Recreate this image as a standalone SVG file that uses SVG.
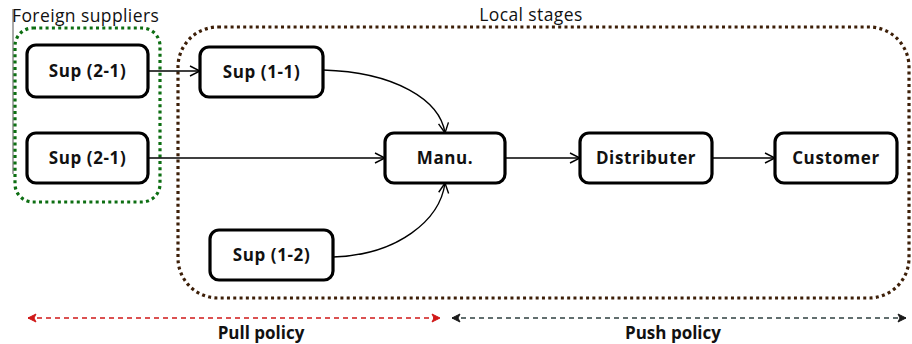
<svg xmlns="http://www.w3.org/2000/svg" width="912" height="344" viewBox="0 0 912 344">
<style>
.node rect{fill:#fff;stroke:#000;stroke-width:3.2}
.node text{font-family:"Open Sans","Liberation Sans",sans-serif;font-weight:bold;font-size:17px;letter-spacing:0.6px;text-anchor:middle;fill:#111}
.conn{fill:none;stroke:#000;stroke-width:1.4}
.lbl{font-family:"Open Sans","Liberation Sans",sans-serif;font-size:17.5px;letter-spacing:0.4px;fill:#111}
.plbl{font-family:"Open Sans","Liberation Sans",sans-serif;font-size:17px;font-weight:bold;fill:#111;text-anchor:middle}
</style>
<defs>
<marker id="arr" viewBox="0 0 12 12" refX="11" refY="6" markerWidth="12" markerHeight="12" markerUnits="userSpaceOnUse" orient="auto">
<path d="M1,1 L11,6 L1,11" fill="none" stroke="#000" stroke-width="1.4"/>
</marker>
<marker id="red" viewBox="0 0 10 10" refX="9" refY="5" markerWidth="10" markerHeight="10" markerUnits="userSpaceOnUse" orient="auto-start-reverse">
<path d="M1,1 L9,5 L1,9 L3,5 Z" fill="#d01818" stroke="#d01818" stroke-width="1"/>
</marker>
<marker id="dark" viewBox="0 0 10 10" refX="9" refY="5" markerWidth="10" markerHeight="10" markerUnits="userSpaceOnUse" orient="auto-start-reverse">
<path d="M1,1 L9,5 L1,9 L3,5 Z" fill="#1a1a1a" stroke="#1a1a1a" stroke-width="1"/>
</marker>
</defs>
<rect width="912" height="344" fill="#fff"/>
<g id="groups">
<line x1="13" y1="9" x2="13" y2="174" stroke="#555" stroke-width="1"/>
<text class="lbl" x="12" y="22">Foreign suppliers</text>
<rect x="15" y="28" width="145" height="174" rx="18" fill="none" stroke="#0d6e12" stroke-width="3.2" stroke-dasharray="3 3.3"/>
<text class="lbl" x="531" y="21" text-anchor="middle">Local stages</text>
<rect x="178" y="27" width="731" height="271" rx="40" fill="none" stroke="#3d1f08" stroke-width="3.2" stroke-dasharray="3 3.3"/>
</g>
<g id="connectors">
<line class="conn" x1="148" y1="71" x2="200" y2="71" marker-end="url(#arr)"/>
<line class="conn" x1="148" y1="158" x2="385" y2="158" marker-end="url(#arr)"/>
<path class="conn" d="M323,70 C395,72 440,100 445,133" marker-end="url(#arr)"/>
<path class="conn" d="M333,257 C398,255 440,220 445,183" marker-end="url(#arr)"/>
<line class="conn" x1="505" y1="158" x2="580" y2="158" marker-end="url(#arr)"/>
<line class="conn" x1="712" y1="158" x2="775" y2="158" marker-end="url(#arr)"/>
<line x1="28" y1="318" x2="440" y2="318" stroke="#d01818" stroke-width="1.6" stroke-dasharray="5 4" marker-start="url(#red)" marker-end="url(#red)"/>
<line x1="452" y1="318" x2="906" y2="318" stroke="#2f4040" stroke-width="1.6" stroke-dasharray="5 4" marker-start="url(#dark)" marker-end="url(#dark)"/>
</g>
<g id="sup21a" class="node"><rect x="27" y="45" width="121" height="52" rx="9"/><text x="87.5" y="77">Sup (2-1)</text></g>
<g id="sup21b" class="node"><rect x="27" y="133" width="121" height="50" rx="9"/><text x="87.5" y="164">Sup (2-1)</text></g>
<g id="sup11" class="node"><rect x="200" y="47" width="123" height="50" rx="9"/><text x="261.5" y="78">Sup (1-1)</text></g>
<g id="sup12" class="node"><rect x="210" y="230" width="123" height="50" rx="9"/><text x="271.5" y="261">Sup (1-2)</text></g>
<g id="manu" class="node"><rect x="385" y="133" width="120" height="50" rx="9"/><text x="445" y="164">Manu.</text></g>
<g id="dist" class="node"><rect x="580" y="133" width="132" height="50" rx="9"/><text x="646" y="164">Distributer</text></g>
<g id="cust" class="node"><rect x="775" y="133" width="122" height="50" rx="9"/><text x="836" y="164">Customer</text></g>
<text class="plbl" x="261" y="339">Pull policy</text>
<text class="plbl" x="673" y="339">Push policy</text>
</svg>
